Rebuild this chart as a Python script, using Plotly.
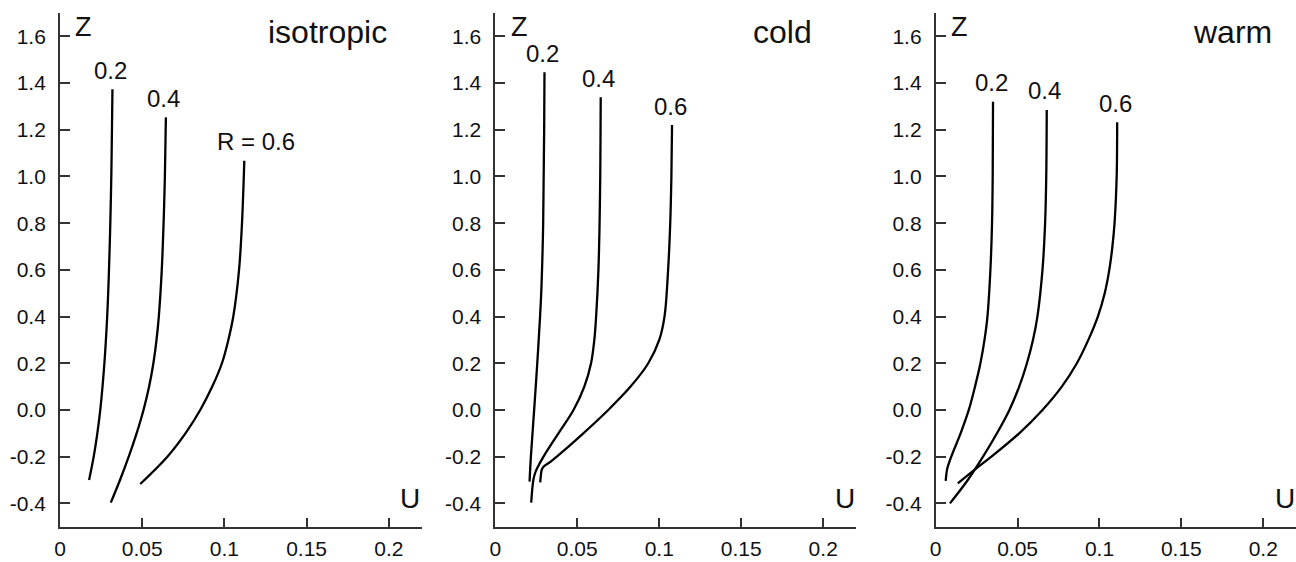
import plotly.graph_objects as go

# Panel titles and the R value of each profile
panels = ["isotropic", "cold", "warm"]
r_labels = ["0.2", "0.4", "0.6"]

# Velocity profiles U(Z) for each regime and R
iso_z_02 = [-0.30, -0.20, -0.10, 0.00, 0.20, 0.40, 0.60, 0.80, 1.00, 1.20, 1.373]
iso_u_02 = [0.0177, 0.0205, 0.0227, 0.0245, 0.0270, 0.0287, 0.0298, 0.0306, 0.0312, 0.0316, 0.0319]
iso_z_04 = [-0.397, -0.30, -0.20, -0.10, 0.00, 0.10, 0.20, 0.30, 0.40, 0.60, 0.80, 1.00, 1.253]
iso_u_04 = [0.0309, 0.0365, 0.0418, 0.0466, 0.0508, 0.0542, 0.0568, 0.0587, 0.0601, 0.0619, 0.0630, 0.0638, 0.0644]
iso_z_06 = [-0.317, -0.20, -0.10, 0.00, 0.10, 0.20, 0.30, 0.40, 0.60, 0.80, 1.00, 1.067]
iso_u_06 = [0.0488, 0.0653, 0.0763, 0.0853, 0.0926, 0.0985, 0.1024, 0.1054, 0.1089, 0.1107, 0.1118, 0.1121]

cold_z_02 = [-0.307, -0.20, 0.00, 0.20, 0.40, 0.50, 0.60, 0.70, 0.80, 1.00, 1.20, 1.446]
cold_u_02 = [0.0209, 0.0217, 0.0237, 0.0256, 0.0273, 0.0280, 0.0285, 0.0289, 0.0292, 0.0295, 0.0298, 0.0300]
cold_z_04 = [-0.397, -0.30, -0.27, -0.25, -0.20, -0.10, 0.00, 0.10, 0.20, 0.30, 0.40, 0.60, 0.80, 1.00, 1.20, 1.339]
cold_u_04 = [0.0219, 0.0232, 0.0243, 0.0255, 0.0294, 0.0385, 0.0477, 0.0543, 0.0584, 0.0604, 0.0615, 0.0629, 0.0636, 0.0640, 0.0642, 0.0643]
cold_z_06 = [-0.31, -0.279, -0.255, -0.243, -0.22, -0.20, -0.10, 0.00, 0.10, 0.20, 0.30, 0.40, 0.60, 0.80, 1.00, 1.22]
cold_u_06 = [0.0274, 0.0278, 0.0284, 0.0294, 0.0340, 0.0375, 0.0537, 0.0689, 0.0825, 0.0933, 0.1000, 0.1032, 0.1054, 0.1067, 0.1074, 0.1078]

warm_z_02 = [-0.304, -0.25, -0.20, -0.10, 0.00, 0.10, 0.20, 0.30, 0.40, 0.60, 0.80, 1.00, 1.32]
warm_u_02 = [0.0061, 0.0071, 0.0095, 0.0152, 0.0202, 0.0240, 0.0273, 0.0298, 0.0316, 0.0334, 0.0344, 0.0348, 0.0350]
warm_z_04 = [-0.40, -0.30, -0.20, -0.10, 0.00, 0.10, 0.20, 0.30, 0.40, 0.60, 0.80, 1.00, 1.285]
warm_u_04 = [0.0087, 0.0196, 0.0289, 0.0374, 0.0450, 0.0510, 0.0557, 0.0594, 0.0621, 0.0652, 0.0668, 0.0675, 0.0678]
warm_z_06 = [-0.314, -0.25, -0.20, -0.10, 0.00, 0.10, 0.20, 0.30, 0.40, 0.50, 0.60, 0.70, 0.80, 1.00, 1.232]
warm_u_06 = [0.0135, 0.0248, 0.0340, 0.0510, 0.0652, 0.0770, 0.0862, 0.0932, 0.0990, 0.1032, 0.1060, 0.1079, 0.1092, 0.1105, 0.1108]

profiles = [
    [(iso_u_02, iso_z_02), (iso_u_04, iso_z_04), (iso_u_06, iso_z_06)],
    [(cold_u_02, cold_z_02), (cold_u_04, cold_z_04), (cold_u_06, cold_z_06)],
    [(warm_u_02, warm_z_02), (warm_u_04, warm_z_04), (warm_u_06, warm_z_06)],
]

x_ticks = [0, 0.05, 0.1, 0.15, 0.2]
x_tick_text = ["0", "0.05", "0.1", "0.15", "0.2"]
y_ticks = [-0.4, -0.2, 0.0, 0.2, 0.4, 0.6, 0.8, 1.0, 1.2, 1.4, 1.6]
y_tick_text = ["-0.4", "-0.2", "0.0", "0.2", "0.4", "0.6", "0.8", "1.0", "1.2", "1.4", "1.6"]

FONT = "Liberation Sans, Arial, sans-serif"
INK = "#111111"
W, H = 1296, 562

# horizontal extent of each panel in pixels
panel_px = [(60, 421.7), (495.3, 856.0), (935.7, 1296.0)]
y_dom = [(H - 526.7) / H, (H - 13) / H]
# title centre (data x) for each panel
title_x = [0.163, 0.175, 0.181]

fig = go.Figure()
for p in range(3):
    sfx = "" if p == 0 else str(p + 1)
    for k, (u, z) in enumerate(profiles[p]):
        fig.add_trace(go.Scatter(
            x=u, y=z, mode="lines", xaxis="x" + sfx, yaxis="y" + sfx,
            line=dict(color="black", width=2.3, shape="spline", smoothing=1.0),
            showlegend=False, hoverinfo="skip"))
        text = "R = " + r_labels[k] if (p == 0 and k == 2) else r_labels[k]
        fig.add_annotation(
            x=u[-1], y=z[-1], xref="x" + sfx, yref="y" + sfx, text=text,
            showarrow=False, xanchor="center", yanchor="middle",
            xshift=12 if (p == 0 and k == 2) else -2, yshift=19,
            font=dict(family=FONT, size=24, color=INK))

    x0, x1 = panel_px[p]
    common = dict(ticks="inside", tickwidth=1.5, tickcolor="#333", showline=True,
                  linecolor="#333", linewidth=1.8, showgrid=False, zeroline=False,
                  automargin=False, tickfont=dict(family=FONT, size=21, color=INK))
    fig.update_layout(**{
        "xaxis" + sfx: dict(
            domain=[x0 / W, x1 / W], range=[0, 0.22], anchor="y" + sfx,
            tickvals=x_ticks, ticktext=x_tick_text, ticklen=9,
            ticklabelstandoff=2, **common),
        "yaxis" + sfx: dict(
            domain=y_dom, range=[-0.5, 1.7], anchor="x" + sfx,
            tickvals=y_ticks, ticktext=y_tick_text, ticklen=10,
            ticklabelstandoff=8, **common),
    })
    # axis names and panel title
    fig.add_annotation(x=0.0145, y=1.64, xref="x" + sfx, yref="y" + sfx, text="Z",
                       showarrow=False, xanchor="center", yanchor="middle",
                       font=dict(family=FONT, size=27, color=INK))
    fig.add_annotation(x=0.213, y=-0.381, xref="x" + sfx, yref="y" + sfx, text="U",
                       showarrow=False, xanchor="center", yanchor="middle",
                       font=dict(family=FONT, size=28, color=INK))
    fig.add_annotation(x=title_x[p], y=1.619, xref="x" + sfx, yref="y" + sfx,
                       text=panels[p], showarrow=False, xanchor="center",
                       yanchor="middle", font=dict(family=FONT, size=32, color=INK))

fig.update_layout(
    width=W, height=H, margin=dict(l=0, r=0, t=0, b=0),
    paper_bgcolor="white", plot_bgcolor="white", showlegend=False,
)

fig.write_html("out.html")
